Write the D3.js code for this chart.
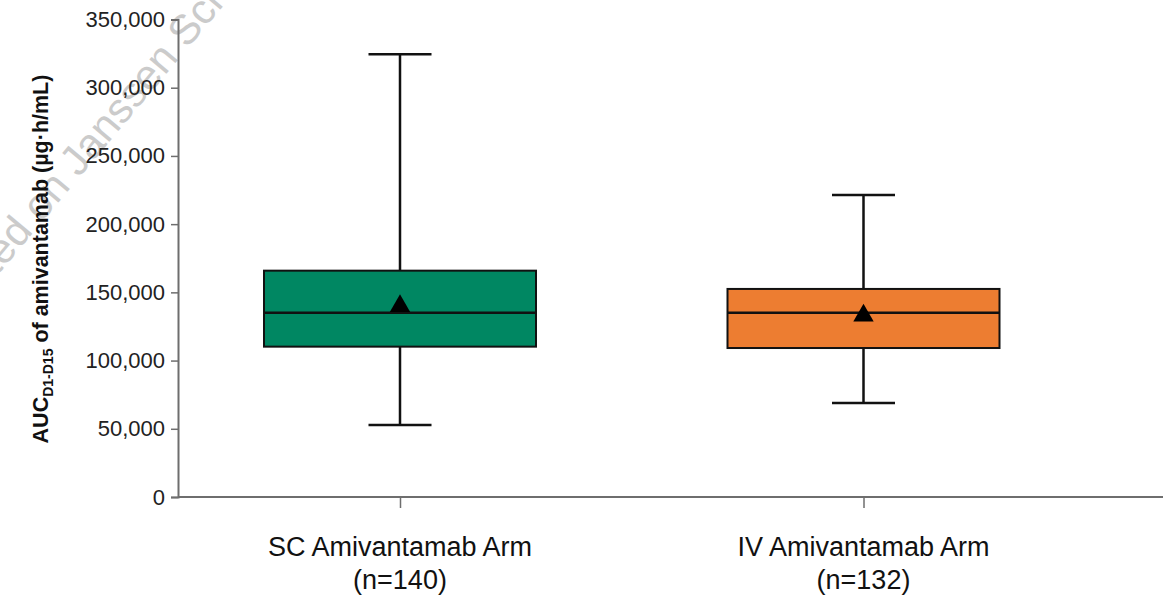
<!DOCTYPE html>
<html>
<head>
<meta charset="utf-8">
<script src="https://cdn.jsdelivr.net/npm/d3@7"></script>
<style>
  body { margin: 0; background: #fff; }
  svg { display: block; }
</style>
</head>
<body>
<div id="chart"></div>
<script>
'use strict'

const categories = ['SC Amivantamab Arm', 'IV Amivantamab Arm']
const nLabels = ['(n=140)', '(n=132)']
const colors = ['#008762', '#ed7d31']
const whiskerLow = [52800, 68900]
const q1 = [110200, 109200]
const medians = [135000, 135000]
const q3 = [165900, 152500]
const whiskerHigh = [324500, 221400]
const means = [140000, 133000]
const yTicks = [0, 50000, 100000, 150000, 200000, 250000, 300000, 350000]

const width = 1171
const height = 596
const axisLeft = 178
const axisRight = 1163
const boxWidth = 272
const capWidth = 63
const font = 'Liberation Sans, Arial, Helvetica, sans-serif'

const svg = d3.select('#chart')
  .append('svg')
    .attr('width', width)
    .attr('height', height)

// watermark, cut by the page edges like in the source
const mark = svg.append('g')
  .attr('transform', 'translate(79,178) rotate(-50)')
  .attr('font-family', font)
  .attr('font-size', 42)
  .attr('fill', '#cbcbcb')
mark.append('text').attr('text-anchor', 'end').text('Presented on\u00a0')
mark.append('text').attr('text-anchor', 'start').text('Janssen Science')

const y = d3.scaleLinear()
  .domain([0, 350000])
  .range([497, 19.5])

const x = d3.scalePoint()
  .domain(categories)
  .range([400, 863.5])

const yAxis = d3.axisLeft(y)
  .tickValues(yTicks)
  .tickSize(7)
  .tickPadding(6)
  .tickFormat(d3.format(','))

const yg = svg.append('g')
  .attr('transform', `translate(${axisLeft},0)`)
  .call(yAxis)
yg.select('.domain').attr('stroke', '#6e6e6e').attr('stroke-width', 2)
yg.selectAll('line').attr('stroke', '#6e6e6e').attr('stroke-width', 1.5)
yg.selectAll('text')
  .attr('font-family', font)
  .attr('font-size', 22)
  .attr('fill', '#222')

const xAxis = d3.axisBottom(x)
  .tickSize(11)
  .tickFormat('')

const xg = svg.append('g')
  .attr('transform', `translate(0,${y(0)})`)
  .call(xAxis)
xg.select('.domain').remove()
xg.selectAll('line').attr('stroke', '#6e6e6e').attr('stroke-width', 1.5)
xg.append('line')
  .attr('x1', axisLeft).attr('x2', axisRight)
  .attr('stroke', '#6e6e6e').attr('stroke-width', 2)

// x category labels
const labels = svg.append('g')
  .selectAll('text')
  .data(categories)
  .join('text')
    .attr('x', d => x(d))
    .attr('y', 556)
    .attr('text-anchor', 'middle')
    .attr('font-family', font)
    .attr('font-size', 27)
    .attr('fill', '#111')
labels.append('tspan').text(d => d)
labels.append('tspan')
  .attr('x', d => x(d))
  .attr('dy', 33)
  .text((d, i) => nLabels[i])

// y axis title
const title = svg.append('text')
  .attr('transform', `translate(48,259) rotate(-90)`)
  .attr('text-anchor', 'middle')
  .attr('font-family', font)
  .attr('font-weight', 'bold')
  .attr('font-size', 21.5)
  .attr('fill', '#111')
title.append('tspan').text('AUC')
title.append('tspan').attr('font-size', 14).attr('dy', 5).text('D1-D15')
title.append('tspan').attr('dy', -5).text(' of amivantamab (µg·h/mL)')

// boxes
const boxes = svg.append('g')
  .selectAll('g')
  .data(categories)
  .join('g')

boxes.append('line')
  .attr('x1', d => x(d)).attr('x2', d => x(d))
  .attr('y1', (d, i) => y(whiskerHigh[i]))
  .attr('y2', (d, i) => y(whiskerLow[i]))
  .attr('stroke', '#111').attr('stroke-width', 2.5)

boxes.selectAll('line.cap')
  .data((d, i) => [whiskerLow[i], whiskerHigh[i]].map(v => ({ c: d, v })))
  .join('line')
    .attr('class', 'cap')
    .attr('x1', d => x(d.c) - capWidth / 2)
    .attr('x2', d => x(d.c) + capWidth / 2)
    .attr('y1', d => y(d.v)).attr('y2', d => y(d.v))
    .attr('stroke', '#111').attr('stroke-width', 2.5)

boxes.append('rect')
  .attr('x', d => x(d) - boxWidth / 2)
  .attr('width', boxWidth)
  .attr('y', (d, i) => y(q3[i]))
  .attr('height', (d, i) => y(q1[i]) - y(q3[i]))
  .attr('fill', (d, i) => colors[i])
  .attr('stroke', '#111').attr('stroke-width', 2)

boxes.append('line')
  .attr('x1', d => x(d) - boxWidth / 2).attr('x2', d => x(d) + boxWidth / 2)
  .attr('y1', (d, i) => y(medians[i])).attr('y2', (d, i) => y(medians[i]))
  .attr('stroke', '#111').attr('stroke-width', 2.5)

const tri = d3.symbol().type(d3.symbolTriangle).size(180)
boxes.append('path')
  .attr('d', tri)
  .attr('transform', (d, i) => `translate(${x(d)},${y(means[i])})`)
  .attr('fill', '#000')
</script>
</body>
</html>
